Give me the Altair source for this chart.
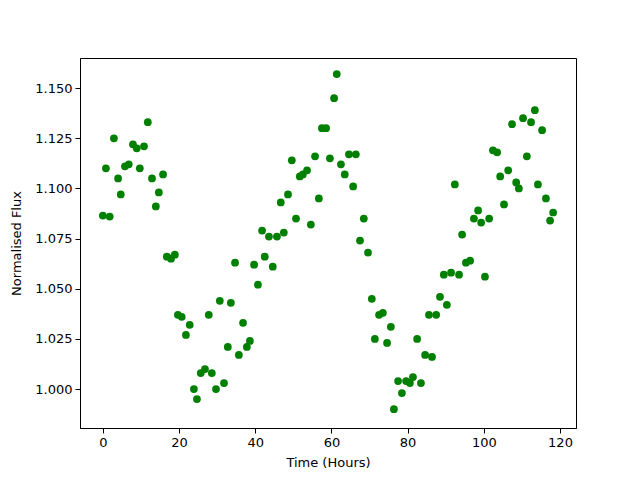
import altair as alt
import pandas as pd

hours = [0, 0.8, 1.8, 2.9, 4.0, 4.7, 5.8, 6.8, 7.9, 8.9, 9.7, 10.8, 11.8, 12.9, 13.9, 14.7,
         15.8, 16.8, 17.9, 18.9, 19.7, 20.7, 21.8, 22.8, 23.9, 24.7, 25.7, 26.8, 27.8, 28.6,
         29.7, 30.7, 31.8, 32.8, 33.6, 34.7, 35.7, 36.8, 37.8, 38.6, 39.7, 40.7, 41.8, 42.5,
         43.6, 44.6, 45.7, 46.7, 47.5, 48.6, 49.6, 50.7, 51.7, 52.5, 53.6, 54.6, 55.7, 56.7,
         57.5, 58.6, 59.6, 60.7, 61.4, 62.5, 63.5, 64.6, 65.7, 66.4, 67.5, 68.5, 69.6, 70.6,
         71.4, 72.5, 73.5, 74.6, 75.6, 76.4, 77.5, 78.5, 79.6, 80.6, 81.4, 82.5, 83.5, 84.6,
         85.6, 86.4, 87.5, 88.5, 89.5, 90.3, 91.4, 92.4, 93.5, 94.3, 95.3, 96.4, 97.4, 98.5,
         99.3, 100.3, 101.4, 102.4, 103.5, 104.3, 105.3, 106.4, 107.4, 108.5, 109.2, 110.3,
         111.3, 112.4, 113.4, 114.2, 115.3, 116.3, 117.4, 118.2]
flux = [1.0865, 1.110, 1.086, 1.125, 1.105, 1.097, 1.111, 1.112, 1.122, 1.120, 1.110, 1.121,
        1.133, 1.105, 1.091, 1.098, 1.107, 1.066, 1.065, 1.067, 1.037, 1.036, 1.027, 1.032,
        1.000, 0.995, 1.008, 1.010, 1.037, 1.008, 1.000, 1.044, 1.003, 1.021, 1.043, 1.063,
        1.017, 1.033, 1.021, 1.024, 1.062, 1.052, 1.079, 1.066, 1.076, 1.061, 1.076, 1.093,
        1.078, 1.097, 1.114, 1.085, 1.106, 1.107, 1.109, 1.082, 1.116, 1.095, 1.130, 1.130,
        1.115, 1.145, 1.157, 1.112, 1.107, 1.117, 1.101, 1.117, 1.074, 1.085, 1.068, 1.045,
        1.025, 1.037, 1.038, 1.023, 1.031, 0.990, 1.004, 0.998, 1.004, 1.003, 1.006, 1.025,
        1.003, 1.017, 1.037, 1.016, 1.037, 1.046, 1.057, 1.042, 1.058, 1.102, 1.057, 1.077,
        1.063, 1.064, 1.085, 1.089, 1.083, 1.056, 1.085, 1.119, 1.118, 1.106, 1.092, 1.109,
        1.132, 1.103, 1.100, 1.135, 1.116, 1.133, 1.139, 1.102, 1.129, 1.095, 1.084, 1.088]

x_ticks = [0, 20, 40, 60, 80, 100, 120]
y_ticks = [1.000, 1.025, 1.050, 1.075, 1.100, 1.125, 1.150]

df = pd.DataFrame({"t": hours, "f": flux})

chart = alt.Chart(df).mark_circle(color="#008000", opacity=1, size=60).encode(
    x=alt.X("t:Q", title="Time (Hours)",
            scale=alt.Scale(domain=[-6.0, 124.2], nice=False, zero=False),
            axis=alt.Axis(values=x_ticks, format="d")),
    y=alt.Y("f:Q", title="Normalised Flux",
            scale=alt.Scale(domain=[0.9806, 1.165], nice=False, zero=False),
            axis=alt.Axis(values=y_ticks, format=".3f")),
).properties(
    width=496, height=370,
    autosize=alt.AutoSizeParams(type="none"),
    padding={"left": 72, "top": 50, "right": 56, "bottom": 44},
).configure_view(
    stroke="black", strokeWidth=1
).configure_axis(
    grid=False, domainColor="black", domainWidth=1, tickColor="black", tickSize=5,
    labelColor="black", labelFont="DejaVu Sans", labelFontSize=13,
    titleFont="DejaVu Sans", titleFontSize=13, titleFontWeight="normal", titleColor="black",
    labelPadding=3,
).configure_axisX(titlePadding=7).configure_axisY(titlePadding=11)

chart.save("out.html", embed_options={"renderer": "svg", "actions": False})
